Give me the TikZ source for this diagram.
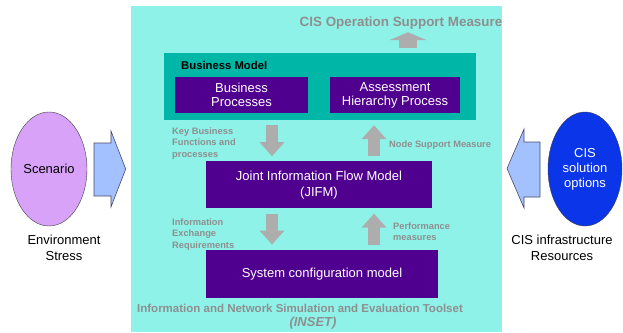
\documentclass[tikz,border=0pt]{standalone}
\usepackage{fontspec}
\setmainfont{Liberation Sans}
\usepackage{tikz}
\usepackage{xcolor}
\usetikzlibrary{arrows.meta,shapes.geometric,positioning}

\definecolor{insetcyan}{HTML}{8EF2E8}
\definecolor{bmteal}{HTML}{00B6A6}
\definecolor{modelpurple}{HTML}{50008F}
\definecolor{arrowgray}{HTML}{ADADAD}
\definecolor{notegray}{HTML}{8F8F8F}
\definecolor{scenlilac}{HTML}{D8A2F8}
\definecolor{cisblue}{HTML}{0A35E8}
\definecolor{feedblue}{HTML}{A3C0FF}
\definecolor{feededge}{HTML}{4A4A6A}

\begin{document}
\begin{tikzpicture}[
        x=1pt, y=-1pt,
        model/.style={rectangle, fill=modelpurple, text=white, inner sep=0pt,
                      align=center, font=\fontsize{13}{14}\selectfont},
        note/.style={anchor=north west, inner sep=0pt, align=left, text=notegray,
                     font=\bfseries\fontsize{9.3}{11.4}\selectfont},
        flow/.style={draw=arrowgray, line width=12.5pt, shorten <=5pt, shorten >=5pt,
                     -{Triangle[width=24pt,length=14pt]}},
        source/.style={ellipse, draw=black!75, line width=0.4pt, inner sep=0pt,
                       minimum width=76pt, minimum height=114pt, align=center,
                       font=\fontsize{13}{15}\selectfont},
        feed/.style={fill=feedblue, draw=feededge, line width=0.6pt},
        caption/.style={inner sep=0pt, align=center, font=\fontsize{13}{16}\selectfont}
    ]
    \useasboundingbox (0,0) rectangle (623,332);

    % INSET area
    \fill[insetcyan] (131,6) rectangle (502,332);
    \node[anchor=base, inner sep=0pt, text=notegray,
          font=\bfseries\fontsize{13.4}{16}\selectfont] (csm) at (401,26.5) {CIS Operation Support Measure};

    \node[rectangle, fill=bmteal, minimum width=312pt, minimum height=67pt, inner sep=0pt] (bm) at (320,86.5) {};
    \node[anchor=base west, inner sep=0pt, font=\bfseries\fontsize{11.3}{13}\selectfont] (bmlabel) at (181,69) {Business Model};
    \node[model, minimum width=133pt, minimum height=36pt] (bp) at (241.5,95) {Business\\Processes};
    \node[model, minimum width=130pt, minimum height=36pt] (ahp) at (395,95) {Assessment\\Hierarchy Process};
    \node[model, minimum width=226pt, minimum height=47pt, below=41pt of bm, xshift=-1pt,
          font=\fontsize{13}{16}\selectfont] (jifm) {Joint Information Flow Model\\(JIFM)};
    \node[model, minimum width=232pt, minimum height=48pt, below=41pt of jifm, xshift=3pt] (sys) {System configuration model};

    \draw[flow] ([xshift=-48pt]bm.south) -- ([xshift=-47pt]jifm.north);
    \draw[flow] ([xshift=55pt]jifm.north) -- ([xshift=54pt]bm.south);
    \draw[flow] ([xshift=-47pt]jifm.south) -- ([xshift=-50pt]sys.north);
    \draw[flow] ([xshift=52pt]sys.north) -- ([xshift=55pt]jifm.south);
    \draw[flow, line width=17.5pt, shorten >=2.7pt, -{Triangle[width=37pt,length=8pt]}]
        ([xshift=88pt]bm.north) -- ([xshift=7pt]csm.south);

    % Labels
    \node[note] (keybf) at (172,127.5) {Key Business\\Functions and\\processes};
    \node[note] (nsm) at (389,141) {Node Support Measure};
    \node[note] (ier) at (172,218.3) {Information\\Exchange\\Requirements};
    \node[note] (perf) at (393,222.5) {Performance\\measures};
    \node[anchor=base, inner sep=0pt, text=notegray, font=\bfseries\fontsize{11.5}{13}\selectfont]
        (toolset) at (300,312.1) {Information and Network Simulation and Evaluation Toolset};
    \node[anchor=base, inner sep=0pt, text=notegray, font=\bfseries\itshape\fontsize{13}{15}\selectfont]
        (inset) at (313,326.6) {(INSET)};

    % Inputs
    \node[source, fill=scenlilac] (scen) at (49,169) {Scenario};
    \node[source, fill=cisblue, text=white, minimum width=74pt] (cis) at (585,169) {CIS\\solution\\options};
    \node[caption, below=9pt of scen, xshift=15pt] (env) {Environment\\Stress};
    \node[caption, below=9pt of cis, xshift=-23pt] (infra) {CIS infrastructure\\Resources};

    \draw[feed] (94,143) -- (111,143) -- (111,131) -- (125.7,169) -- (111,207) -- (111,196) -- (94,196) -- cycle;
    \draw[feed] (540,142) -- (524,142) -- (524,129) -- (507,168.5) -- (524,208) -- (524,197) -- (540,197) -- cycle;
\end{tikzpicture}
\end{document}
